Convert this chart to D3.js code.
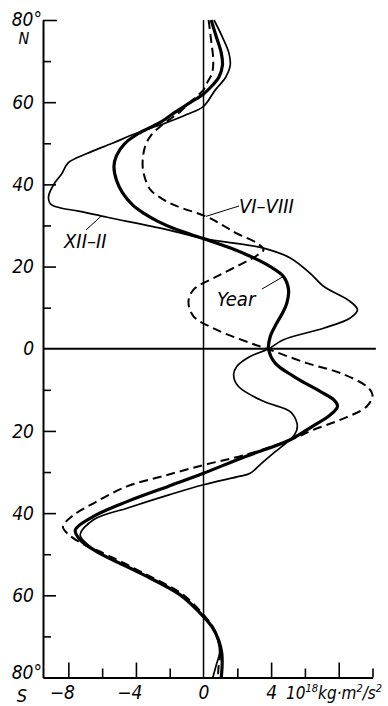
<!DOCTYPE html>
<html>
<head>
<meta charset="utf-8">
<script src="https://cdn.jsdelivr.net/npm/d3@7"></script>
<style>
  html, body { margin: 0; padding: 0; background: #fff; }
  svg text {
    font-family: "DejaVu Sans Condensed", "DejaVu Sans", sans-serif;
    font-stretch: condensed;
    font-style: italic;
    fill: #000;
  }
</style>
</head>
<body>
<svg id="chart" width="388" height="706"></svg>
<script>
// Meridional profiles: latitude (deg, positive = north) and value (10^18 kg·m²/s²)
const yearLat = [80, 76, 72, 69, 66, 64, 62, 60, 57.5, 55, 52.5, 50, 47, 44.4, 41, 38, 35, 33, 31, 29, 26.8,
  24.5, 22.5, 20, 17.6, 14.4, 11.1, 8.5, 6, 3, 0, -3.5, -6.7, -10.4, -12.4, -14, -16.1, -19, -22.2, -26.5,
  -30.3, -33.5, -37.2, -40.8, -44.1, -46.5, -49.4, -54.6, -59.9, -65.2, -68, -71, -74, -77, -80];
const yearVal = [0.45, 0.75, 1.05, 1.12, 0.9, 0.5, 0.0, -0.75, -1.7, -2.6, -3.8, -4.65, -5.15, -5.3, -5.15, -4.8, -4.2, -3.55, -2.7, -1.6, 0.0,
  1.6, 2.76, 3.95, 4.73, 5.03, 4.93, 4.65, 4.3, 3.95, 3.85, 4.24, 5.33, 6.9, 7.7, 7.93, 7.5, 6.4, 5.1, 2.3,
  0.0, -2.1, -4.53, -6.51, -7.59, -7.3, -6.3, -3.75, -1.38, 0.0, 0.55, 0.9, 1.08, 1.1, 1.05];

// December–February
const winterLat = [80, 76, 72, 69, 66, 63, 59, 57, 55, 52.5, 50, 47.5, 45.3, 42.5, 40.4, 37.1, 35.3, 34.3, 33.5, 32, 29, 26.8,
  24.5, 22.1, 18.4, 15.2, 11.5, 9.5, 7.5, 5, 2.2, 0, -2, -4.3, -6.3, -9.2, -12.8, -15.3, -18.1, -20, -21.7, -25.4, -28,
  -30.3, -31, -33.1, -35.5, -38.8, -41.6, -45.3, -47.5, -49.4, -54.6, -59.9, -65.2, -68, -71, -74, -77, -80];
const winterVal = [0.62, 1.1, 1.5, 1.58, 1.3, 0.7, 0.0, -1.0, -2.2, -3.94, -5.4, -6.9, -8.0, -8.4, -8.8, -9.17, -9.07, -8.5, -7.4, -5.7, -2.17, 0.0,
  3.55, 5.13, 6.3, 7.1, 8.68, 9.11, 8.68, 7.1, 4.73, 3.85, 2.7, 1.97, 1.78, 2.07, 3.55, 5.13, 5.53, 5.5, 5.23, 4.14, 3.4,
  2.76, 2.17, 0.0, -2.0, -4.53, -6.51, -7.3, -6.9, -6.3, -3.75, -1.38, 0.0, 0.55, 0.85, 0.95, 0.75, 0.55];

// June–August
const summerLat = [80, 75, 70, 67, 65, 63, 60, 57.6, 56.4, 54.1, 51.7, 49.3, 46, 42.8, 38.7, 36.3, 34.7, 32.2, 30, 28.2, 25.7,
  24.1, 22.8, 20.9, 17.6, 14.4, 11.5, 7.9, 4.6, 1.4, 0, -3.5, -5.9, -9.2, -11.2, -14, -17.3, -19.7, -22.2, -25.9, -28.3,
  -31, -33.5, -37.6, -40.5, -43.3, -45.5, -48, -49.4, -54.6, -59.9, -65.2, -68, -71, -74, -77, -80];
const summerVal = [0.3, 0.45, 0.58, 0.5, 0.25, 0.0, -0.8, -1.4, -1.8, -2.56, -3.15, -3.45, -3.6, -3.55, -3.15, -2.37, -1.58, 0.15, 1.15, 1.9, 3.16,
  3.55, 3.2, 2.37, 0.79, -0.59, -0.89, -0.59, 0.79, 2.76, 3.75, 6.12, 8.09, 9.67, 10.0, 9.67, 8.09, 6.51, 5.13, 2.4, 0.0,
  -2.4, -4.53, -6.51, -7.7, -8.32, -7.9, -6.9, -6.1, -3.55, -1.2, 0.1, 0.6, 0.9, 1.0, 0.9, 0.85];

// Axis ticks and labels
const latTicks = [80, 70, 60, 50, 40, 30, 20, 10, 0, -10, -20, -30, -40, -50, -60, -70, -80];
const latLabelTicks = [60, 40, 20, 0, -20, -40, -60];
const latLabelText = ["60", "40", "20", "0", "20", "40", "60"];
const valTicks = [-8, -6, -4, -2, 0, 2, 4, 6, 8, 10];
const valLabelTicks = [-8, -4, 0, 4];
const valLabelText = ["\u22128", "\u22124", "0", "4"];
const majorValTicks = [-8, -4, 4, 8];

const svg = d3.select("#chart");

const x = d3.scaleLinear().domain([-9.5, 10]).range([43, 372.5]);
const y = d3.scaleLinear().domain([80, -80]).range([20, 677.5]);

// Left (latitude) axis, ticks pointing inward
const leftAxis = d3.axisLeft(y)
  .tickValues(latTicks)
  .tickSizeInner(-8)
  .tickSizeOuter(0)
  .tickPadding(9)
  .tickFormat(d => {
    const i = latLabelTicks.indexOf(d);
    return i >= 0 ? latLabelText[i] : "";
  });

const gLeft = svg.append("g").attr("transform", "translate(43,0)").call(leftAxis);
gLeft.select(".domain").attr("stroke", "#000").attr("stroke-width", 2);
gLeft.selectAll(".tick line")
  .attr("stroke", "#000").attr("stroke-width", 1.6)
  .attr("x2", d => (d === 80 ? 14 : (latLabelTicks.includes(d) ? 13 : 8)))
  .attr("display", d => (d === 0 || d === -80 ? "none" : null));
gLeft.selectAll(".tick text").attr("font-size", 19).attr("font-family", null);

// Bottom (value) axis, ticks pointing inward
const bottomAxis = d3.axisBottom(x)
  .tickValues(valTicks)
  .tickSizeInner(-9)
  .tickSizeOuter(0)
  .tickPadding(8)
  .tickFormat(d => {
    const i = valLabelTicks.indexOf(d);
    return i >= 0 ? valLabelText[i] : "";
  });

const gBottom = svg.append("g").attr("transform", `translate(0,${y(-80)})`).call(bottomAxis);
gBottom.select(".domain").attr("stroke", "#000").attr("stroke-width", 2);
gBottom.selectAll(".tick line")
  .attr("stroke", "#000").attr("stroke-width", 1.6)
  .attr("y2", d => (majorValTicks.includes(d) ? -15 : -9))
  .attr("display", d => (d === 0 ? "none" : null));
gBottom.selectAll(".tick text")
  .attr("font-size", 19).attr("font-family", null)
  .attr("text-anchor", d => (d < 0 ? "end" : "middle"))
  .attr("x", d => (d < 0 ? 6 : 0));

// Corner labels of the latitude axis
svg.append("text").attr("x", 42).attr("y", 26).attr("text-anchor", "end").attr("font-size", 19).text("80°");
svg.append("text").attr("x", 24).attr("y", 44).attr("text-anchor", "middle").attr("font-size", 16).attr("font-style", "normal").text("N");
svg.append("text").attr("x", 42).attr("y", 679).attr("text-anchor", "end").attr("font-size", 19).text("80°");
svg.append("text").attr("x", 22).attr("y", 702).attr("text-anchor", "middle").attr("font-size", 18).text("S");

// Unit label
const unit = svg.append("text").attr("x", 286).attr("y", 699).attr("font-size", 17);
unit.append("tspan").text("10");
unit.append("tspan").attr("font-size", 11).attr("dy", -7).text("18");
unit.append("tspan").attr("dy", 7).text("kg·m");
unit.append("tspan").attr("font-size", 11).attr("dy", -7).text("2");
unit.append("tspan").attr("dy", 7).text("/s");
unit.append("tspan").attr("font-size", 11).attr("dy", -7).text("2");

// Zero reference lines: equator and zero value
svg.append("line")
  .attr("x1", x(-9.5)).attr("x2", x(10.2))
  .attr("y1", y(0)).attr("y2", y(0))
  .attr("stroke", "#000").attr("stroke-width", 1.8);
svg.append("line")
  .attr("x1", x(0)).attr("x2", x(0))
  .attr("y1", y(80)).attr("y2", y(-80))
  .attr("stroke", "#000").attr("stroke-width", 1.5);

// Profiles
const line = d3.line()
  .x(d => x(d[1]))
  .y(d => y(d[0]))
  .curve(d3.curveCatmullRom.alpha(0.5));

const zip = (a, b) => a.map((v, i) => [v, b[i]]);

const pWinter = svg.append("path")
  .attr("d", line(zip(winterLat, winterVal)))
  .attr("fill", "none").attr("stroke", "#000").attr("stroke-width", 1.7)
  .attr("stroke-linejoin", "round");

const pSummer = svg.append("path")
  .attr("d", line(zip(summerLat, summerVal)))
  .attr("fill", "none").attr("stroke", "#000").attr("stroke-width", 2)
  .attr("stroke-dasharray", "9,5");

const pYear = svg.append("path")
  .attr("d", line(zip(yearLat, yearVal)))
  .attr("fill", "none").attr("stroke", "#000").attr("stroke-width", 3.2)
  .attr("stroke-linejoin", "round");

// Point on a path at a given latitude (closest sample along the path)
function pointAtLat(pathSel, lat) {
  const node = pathSel.node();
  const total = node.getTotalLength();
  const target = y(lat);
  let best = null, bestD = Infinity;
  for (let s = 0; s <= total; s += 0.5) {
    const p = node.getPointAtLength(s);
    const dd = Math.abs(p.y - target);
    if (dd < bestD) { bestD = dd; best = p; }
  }
  return best;
}

// Curve labels with leader lines
function label(text, tx, ty, pathSel, lat, lx, ly) {
  const p = pointAtLat(pathSel, lat);
  svg.append("line")
    .attr("x1", lx).attr("y1", ly).attr("x2", p.x).attr("y2", p.y)
    .attr("stroke", "#000").attr("stroke-width", 1);
  svg.append("text").attr("x", tx).attr("y", ty).attr("font-size", 20).text(text);
}

label("XII\u2013II", 64, 248, pWinter, 32.3, 86, 230);
label("VI\u2013VIII", 239, 213, pSummer, 32.2, 239, 206);
label("Year", 217, 306, pYear, 17.6, 262, 289);
</script>
</body>
</html>
